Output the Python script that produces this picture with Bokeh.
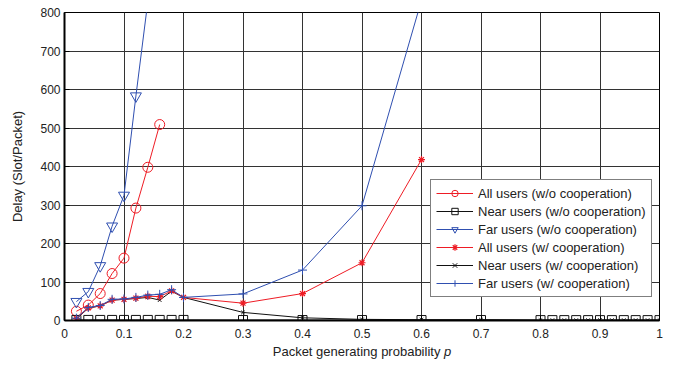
from bokeh.plotting import figure
from bokeh.models import Range1d, Legend, LegendItem, FixedTicker, Div
from bokeh.layouts import column
from bokeh.embed import file_html
from bokeh.resources import INLINE

# ---------------- data ----------------
x_all_wo = [0.02, 0.04, 0.06, 0.08, 0.10, 0.12, 0.14, 0.16]
y_all_wo = [24, 40, 70, 122, 162, 292, 398, 509]

x_far_wo = [0.02, 0.04, 0.06, 0.08, 0.10, 0.12, 0.14]
y_far_wo = [49, 75, 142, 245, 325, 583, 828]

x_near = [0.02, 0.04, 0.06, 0.08, 0.10, 0.12, 0.14, 0.16, 0.18, 0.20,
          0.3, 0.4, 0.5, 0.6, 0.7,
          0.80, 0.82, 0.84, 0.86, 0.88, 0.90, 0.92, 0.94, 0.96, 0.98, 1.00]
y_near_wo = [1.5, 1.5, 1.5, 1.5, 1.5, 1.5, 1.5, 1.5, 1.5, 1.5,
             1.2, 1.2, 1.2, 1.2, 1.2,
             1.0, 1.0, 1.0, 1.0, 1.0, 1.0, 1.0, 1.0, 1.0, 1.0, 1.0]
y_near_w = [4, 32, 38, 53, 55, 57, 60, 53, 76, 60,
            21, 7, 3, 2, 2,
            1, 1, 1, 1, 1, 1, 1, 1, 1, 1, 1]

x_w = [0.02, 0.04, 0.06, 0.08, 0.10, 0.12, 0.14, 0.16, 0.18, 0.20, 0.3, 0.4, 0.5, 0.6]
y_all_w = [5, 33, 38, 53, 55, 58, 63, 62, 77, 60, 45, 70, 150, 418]
y_far_w = [6, 34, 39, 55, 56, 60, 66, 68, 80, 60, 69, 131, 298, 832]

x_ticks = [0, 0.1, 0.2, 0.3, 0.4, 0.5, 0.6, 0.7, 0.8, 0.9, 1]
x_tick_labels = ["0", "0.1", "0.2", "0.3", "0.4", "0.5", "0.6", "0.7", "0.8", "0.9", "1"]
y_ticks = [0, 100, 200, 300, 400, 500, 600, 700, 800]

labels = ["All users (w/o cooperation)", "Near users (w/o cooperation)",
          "Far users (w/o cooperation)", "All users (w/ cooperation)",
          "Near users (w/ cooperation)", "Far users (w/ cooperation)"]
x_label = "Packet generating probability"
x_label_var = "p"
y_label = "Delay (Slot/Packet)"

RED = "#ee1c25"
BLUE = "#2f4fb0"
BLACK = "#111111"
FONT = "Liberation Sans"

p = figure(width=664, height=342, output_backend="svg", toolbar_location=None,
           x_range=Range1d(0, 1), y_range=Range1d(0, 800),
           min_border_left=64, min_border_right=5, min_border_top=12,
           min_border_bottom=22)
p.background_fill_color = "white"
p.border_fill_color = "white"
p.outline_line_color = "black"
p.outline_line_width = 1

# axes
p.xaxis.ticker = FixedTicker(ticks=x_ticks)
p.xaxis.major_label_overrides = {t: l for t, l in zip(x_ticks, x_tick_labels)}
p.yaxis.ticker = FixedTicker(ticks=y_ticks)
for ax in (p.xaxis, p.yaxis):
    ax.major_tick_in = 5
    ax.major_tick_out = 0
    ax.minor_tick_line_color = None
    ax.axis_line_width = 2
    ax.axis_line_color = "black"
    ax.major_tick_line_color = "black"
    ax.major_label_text_font = FONT
    ax.major_label_text_font_size = "12px"
    ax.major_label_text_color = "#222222"
p.xaxis.major_label_standoff = 8
p.yaxis.major_label_standoff = 4
p.yaxis.axis_label = y_label
p.yaxis.axis_label_text_font = FONT
p.yaxis.axis_label_text_font_size = "13px"
p.yaxis.axis_label_text_font_style = "normal"
p.yaxis.axis_label_text_color = "#222222"
p.yaxis.axis_label_standoff = 12

p.grid.grid_line_color = "#333333"
p.grid.grid_line_width = 1

# series
l1 = p.line(x_all_wo, y_all_wo, line_color=RED, line_width=1)
s1 = p.scatter(x_all_wo, y_all_wo, marker="circle", size=10, fill_color=None,
               line_color=RED, line_width=1)
l2 = p.line(x_near, y_near_wo, line_color=BLACK, line_width=1)
s2 = p.scatter(x_near, y_near_wo, marker="square", size=9, fill_color=None,
               line_color=BLACK, line_width=1)
l3 = p.line(x_far_wo, y_far_wo, line_color=BLUE, line_width=1)
s3 = p.scatter(x_far_wo, y_far_wo, marker="inverted_triangle", size=11,
               fill_color=None, line_color=BLUE, line_width=1)
l5 = p.line(x_near, y_near_w, line_color=BLACK, line_width=1)
s5 = p.scatter(x_near, y_near_w, marker="x", size=5, line_color=BLACK, line_width=1)
l4 = p.line(x_w, y_all_w, line_color=RED, line_width=1)
s4 = p.scatter(x_w, y_all_w, marker="asterisk", size=7, line_color=RED, line_width=1.2)
l6 = p.line(x_w, y_far_w, line_color=BLUE, line_width=1)
s6 = p.scatter(x_w, y_far_w, marker="cross", size=9, line_color=BLUE, line_width=1)

items = [LegendItem(label=labels[0], renderers=[l1, s1]),
         LegendItem(label=labels[1], renderers=[l2, s2]),
         LegendItem(label=labels[2], renderers=[l3, s3]),
         LegendItem(label=labels[3], renderers=[l4, s4]),
         LegendItem(label=labels[4], renderers=[l5, s5]),
         LegendItem(label=labels[5], renderers=[l6, s6])]
legend = Legend(items=items, location=(366, 23))
legend.label_text_font = FONT
legend.label_text_font_size = "13px"
legend.label_text_color = "#222222"
legend.glyph_width = 37
legend.glyph_height = 16
legend.label_height = 16
legend.spacing = 2
legend.padding = 5
legend.margin = 0
legend.label_standoff = 5
legend.border_line_color = "black"
legend.border_line_width = 1
legend.background_fill_color = "white"
legend.background_fill_alpha = 1
p.add_layout(legend)

# x axis label (with italic variable), placed under the plot
xlab = Div(text=f"{x_label} <i>{x_label_var}</i>", width=600, height=7,
           margin=(0, 0, 0, 62),
           styles={"font-family": FONT, "font-size": "13px", "line-height": "20px",
                   "text-align": "center", "color": "#222222", "width": "600px",
                   "overflow": "visible"})

layout = column(p, xlab, spacing=0)

open("out.html", "w").write(file_html(layout, INLINE))
